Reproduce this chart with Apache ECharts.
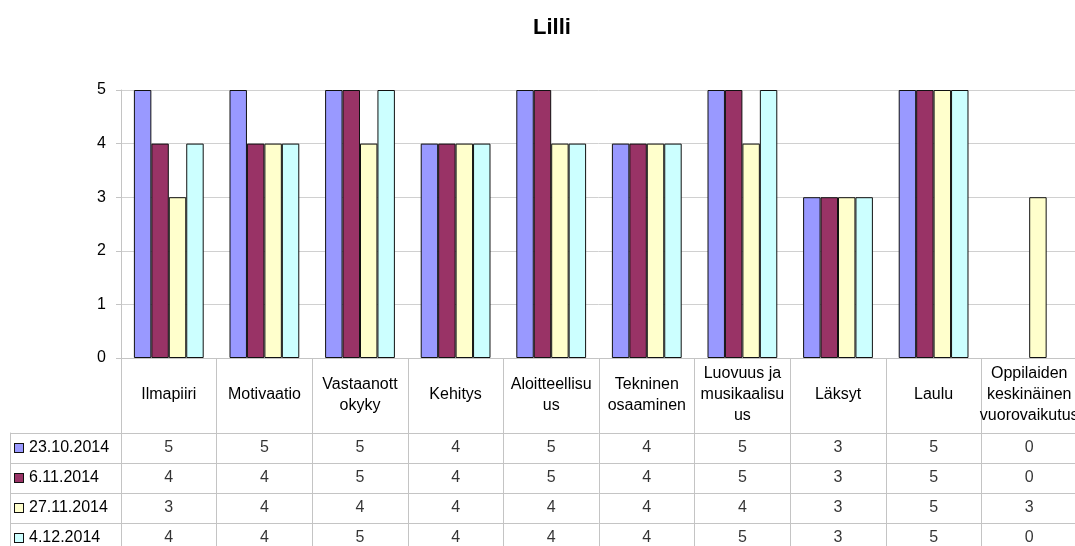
<!DOCTYPE html>
<html>
<head>
<meta charset="utf-8">
<style>
  html, body { margin: 0; padding: 0; background: #fff; }
  #chart { width: 1075px; height: 546px; }
</style>
<script src="https://cdn.jsdelivr.net/npm/echarts@6/dist/echarts.min.js"></script>
</head>
<body>
<div id="chart"></div>
<script>
// 数据
const categories = [
  'Ilmapiiri', 'Motivaatio', 'Vastaanott\nokyky', 'Kehitys', 'Aloitteellisu\nus',
  'Tekninen\nosaaminen', 'Luovuus ja\nmusikaalisu\nus', 'Läksyt', 'Laulu',
  'Oppilaiden\nkeskinäinen\nvuorovaikutus'
]
const seriesNames = ['23.10.2014', '6.11.2014', '27.11.2014', '4.12.2014']
const s1 = [5, 5, 5, 4, 5, 4, 5, 3, 5, 0]
const s2 = [4, 4, 5, 4, 5, 4, 5, 3, 5, 0]
const s3 = [3, 4, 4, 4, 4, 4, 4, 3, 5, 3]
const s4 = [4, 4, 5, 4, 4, 4, 5, 3, 5, 0]
const yTicks = [0, 1, 2, 3, 4, 5]

const seriesValues = [s1, s2, s3, s4]
const colors = ['#9999FF', '#993366', '#FFFFCC', '#CCFFFF']
const lineColor = '#c4c4c4'
const fontFamily = '"Liberation Sans", Arial, sans-serif'

const chart = echarts.init(document.getElementById('chart'))

// 柱状图（0 值不画柱子，表格里仍显示 0）
const barSeries = seriesValues.map((vals, i) => ({
  name: seriesNames[i],
  type: 'bar',
  xAxisIndex: 0,
  yAxisIndex: 0,
  data: vals.map(v => (v === 0 ? null : v)),
  barGap: '0%',
  barCategoryGap: '27%',
  itemStyle: { color: colors[i], borderColor: '#111', borderWidth: 1 },
  silent: true
}))

// 数据表单元格
const cellData = []
seriesValues.forEach((vals, r) => {
  vals.forEach((v, c) => {
    cellData.push([c, r, v])
  })
})

// 行标签（带颜色方块）
const rich = { t: { fontSize: 16, color: '#000', fontFamily: fontFamily, padding: [0, 0, 0, 6] } }
colors.forEach((c, i) => {
  rich['k' + i] = { width: 8, height: 8, backgroundColor: c, borderColor: '#111', borderWidth: 1 }
})

const option = {
  animation: false,
  title: {
    text: 'Lilli',
    left: 528,
    top: 12,
    textStyle: { fontSize: 22, fontWeight: 'bold', color: '#000', fontFamily: fontFamily }
  },
  grid: [
    { left: 121, top: 90, width: 956, height: 268, outerBoundsMode: 'none' },
    { left: 121, top: 433, width: 956, height: 120, outerBoundsMode: 'none' }
  ],
  xAxis: [
    {
      type: 'category',
      gridIndex: 0,
      data: categories,
      axisLine: { show: true, lineStyle: { color: lineColor } },
      axisTick: { show: true, interval: 0, length: 75, lineStyle: { color: lineColor } },
      axisLabel: {
        interval: 0,
        margin: 37,
        verticalAlign: 'middle',
        lineHeight: 21,
        fontSize: 16,
        color: '#000',
        fontFamily: fontFamily
      }
    },
    {
      type: 'category',
      gridIndex: 1,
      data: categories.map((c, i) => i),
      axisLine: { show: false },
      axisTick: { show: false },
      axisLabel: { show: false },
      splitLine: { show: true, interval: 0, lineStyle: { color: lineColor } }
    }
  ],
  yAxis: [
    {
      type: 'value',
      gridIndex: 0,
      min: 0,
      max: 5,
      interval: 1,
      axisLine: { show: true, lineStyle: { color: lineColor } },
      axisTick: { show: true, length: 5, lineStyle: { color: lineColor } },
      axisLabel: {
        margin: 15,
        fontSize: 16,
        color: '#000',
        fontFamily: fontFamily,
        formatter: v => (yTicks.includes(v) ? String(v) : '')
      },
      splitLine: { show: true, lineStyle: { color: '#d0d0d0' } }
    },
    {
      type: 'category',
      gridIndex: 1,
      inverse: true,
      data: seriesNames.map((n, i) => i),
      axisLine: { show: true, lineStyle: { color: lineColor } },
      axisTick: { show: true, interval: 0, length: 111, lineStyle: { color: lineColor } },
      axisLabel: {
        align: 'left',
        margin: 106,
        formatter: (v, i) => `{k${i}|}{t|${seriesNames[i]}}`,
        rich: rich
      },
      splitLine: { show: true, interval: 0, lineStyle: { color: lineColor } }
    },
    {
      type: 'category',
      gridIndex: 1,
      position: 'left',
      offset: 111,
      data: seriesNames.map((n, i) => i),
      axisLine: { show: true, lineStyle: { color: lineColor } },
      axisTick: { show: false },
      axisLabel: { show: false }
    }
  ],
  series: [
    ...barSeries,
    {
      type: 'scatter',
      xAxisIndex: 1,
      yAxisIndex: 1,
      data: cellData,
      symbolSize: 1,
      itemStyle: { color: 'rgba(0,0,0,0)' },
      silent: true,
      label: {
        show: true,
        position: 'inside',
        fontSize: 16,
        color: '#000',
        fontFamily: fontFamily,
        formatter: p => String(p.value[2])
      }
    }
  ]
}

chart.setOption(option)
</script>
</body>
</html>
